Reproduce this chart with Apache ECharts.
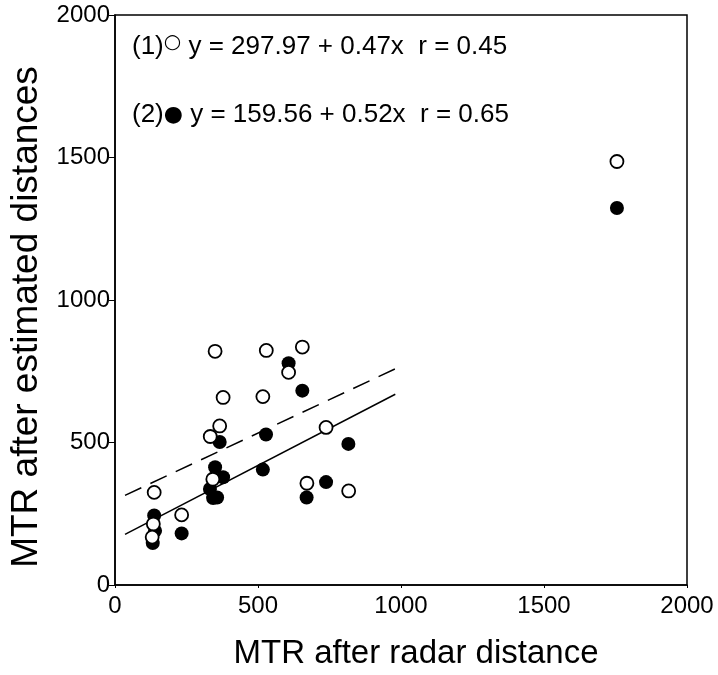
<!DOCTYPE html>
<html><head><meta charset="utf-8">
<script src="https://cdn.jsdelivr.net/npm/echarts@6/dist/echarts.min.js"></script>
<style>html,body{margin:0;padding:0;background:#fff}#c{width:718px;height:675px}</style>
</head><body><div id="c"></div>
<script>
// Open circles (1): [radar, estimated]
const openX = [350, 529, 655, 607, 378, 517, 366, 333, 738, 342, 137, 671, 817, 233, 134, 130, 1755];
const openY = [820, 823, 835, 746, 658, 661, 558, 521, 553, 371, 325, 357, 330, 246, 214, 168, 1486];
// Filled circles (2)
const fillX = [607, 655, 366, 528, 350, 378, 517, 816, 332, 343, 357, 738, 670, 137, 140, 233, 132, 1755];
const fillY = [778, 682, 502, 528, 413, 378, 405, 495, 337, 305, 307, 361, 307, 244, 190, 181, 147, 1323];
// Regression lines
const reg1 = {a: 297.97, b: 0.47, r: 0.45, from: 35, to: 990};
const reg2 = {a: 159.56, b: 0.52, r: 0.65, from: 35, to: 980};
const tickValues = [0, 500, 1000, 1500, 2000];
const xTitle = 'MTR after radar distance';
const yTitle = 'MTR after estimated distances';

const font = 'Liberation Sans, Arial, Helvetica, sans-serif';
const zip = (xs, ys) => xs.map((x, i) => [x, ys[i]]);
const regLine = r => [[r.from, r.a + r.b * r.from], [r.to, r.a + r.b * r.to]];
const eqText = (n, sym, r) => '{t|(' + n + ')}{' + sym + '|' + (sym === 'o' ? '\u25CB' : '\u25CF') + '}{t| y = ' + r.a.toFixed(2) + ' + ' + r.b.toFixed(2) + 'x  r = ' + r.r.toFixed(2) + '}';

const chart = echarts.init(document.getElementById('c'));
const axisCommon = {
  min: 0, max: 2000, interval: 500,
  axisLine: {show: true, lineStyle: {color: '#000', width: 1.5}},
  splitLine: {show: false},
  axisLabel: {color: '#000', fontSize: 24, fontFamily: font, formatter: v => tickValues.includes(v) ? String(v) : ''},
  nameTextStyle: {color: '#000', fontSize: 33, fontFamily: font},
  nameLocation: 'middle'
};
const rich = {
  t: {fontSize: 26, fontFamily: font, color: '#000'},
  o: {fontSize: 20, fontFamily: 'DejaVu Sans', color: '#000', padding: [0, 0, 8, 0]},
  f: {fontSize: 22, fontFamily: 'DejaVu Sans', color: '#000'}
};
chart.setOption({
  animation: false,
  backgroundColor: '#fff',
  grid: {left: 115, right: 31, top: 15, bottom: 88, show: true, borderColor: '#000', borderWidth: 1.5},
  xAxis: Object.assign({}, axisCommon, {
    type: 'value', name: xTitle, nameGap: 52,
    nameTextStyle: Object.assign({}, axisCommon.nameTextStyle, {padding: [0, 0, 0, 30]}),
    axisTick: {show: true, length: 3, lineStyle: {color: '#000'}},
    axisLabel: Object.assign({}, axisCommon.axisLabel, {margin: 9})
  }),
  yAxis: Object.assign({}, axisCommon, {
    type: 'value', name: yTitle, nameGap: 55,
    nameTextStyle: Object.assign({}, axisCommon.nameTextStyle, {fontSize: 37, padding: [0, 34, 0, 0]}),
    axisTick: {show: true, length: 6, lineStyle: {color: '#000'}},
    axisLabel: Object.assign({}, axisCommon.axisLabel, {margin: 5})
  }),
  graphic: [
    {type: 'text', left: 132, top: 33, style: {text: eqText(1, 'o', reg1), rich: rich}},
    {type: 'text', left: 132, top: 102, style: {text: eqText(2, 'f', reg2), rich: rich}}
  ],
  series: [
    {type: 'line', data: regLine(reg1), symbol: 'none', lineStyle: {color: '#000', width: 1.5, type: [18, 10]}, z: 1},
    {type: 'line', data: regLine(reg2), symbol: 'none', lineStyle: {color: '#000', width: 1.5}, z: 1},
    {type: 'scatter', data: zip(fillX, fillY), symbol: 'circle', symbolSize: 14, itemStyle: {color: '#000', opacity: 1}, z: 2},
    {type: 'scatter', data: zip(openX, openY), symbol: 'circle', symbolSize: 13, itemStyle: {color: '#fff', borderColor: '#000', borderWidth: 1.8, opacity: 1}, z: 3}
  ]
});
</script></body></html>
